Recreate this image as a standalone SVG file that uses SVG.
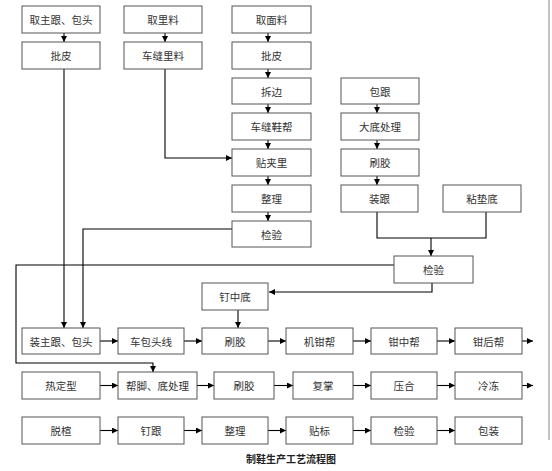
<svg xmlns="http://www.w3.org/2000/svg" width="552" height="471" viewBox="0 0 552 471">
<defs>
<marker id="ah" viewBox="0 0 6 6" refX="6" refY="3" markerWidth="6" markerHeight="6" markerUnits="userSpaceOnUse" orient="auto">
<path d="M0,0 L6,3 L0,6 z" fill="#000"/>
</marker>
<style>
.b rect{fill:#fff;stroke:#555;stroke-width:1}
.b text{font-family:"Noto Sans CJK SC","Noto Sans",sans-serif;font-size:10.5px;fill:#333;text-anchor:middle;dominant-baseline:central}
#conn path{fill:none;stroke:#000;stroke-width:1.1}
#conn .a{marker-end:url(#ah)}
.t{font-family:"Noto Sans CJK SC",sans-serif;font-size:10px;font-weight:bold;fill:#222;text-anchor:middle}
</style>
</defs>
<rect width="552" height="471" fill="#fff"/>
<line x1="549" y1="0" x2="549" y2="440" stroke="#888" stroke-width="1"/>

<g id="conn">
<path class="a" d="M64,33 V42"/>
<path class="a" d="M165,33 V42"/>
<path class="a" d="M268,33 V42"/>
<path class="a" d="M268,69 V78"/>
<path class="a" d="M268,104 V113"/>
<path class="a" d="M268,140 V149"/>
<path class="a" d="M268,176 V185"/>
<path class="a" d="M268,212 V221"/>
<path class="a" d="M377,104 V113"/>
<path class="a" d="M377,140 V149"/>
<path class="a" d="M377,176 V185"/>
<path class="a" d="M64,69 V328"/>
<path class="a" d="M165,69 V158 H232"/>
<path class="a" d="M232,229 H83 V328"/>
<path d="M377,212 V238 H486 V212"/>
<path class="a" d="M431,238 V256"/>
<path class="a" d="M394,265 H16 V363 H153 V372"/>
<path class="a" d="M432,283 V292 H269"/>
<path class="a" d="M238,310 V328"/>
<path class="a" d="M100,341 H118"/>
<path class="a" d="M184,341 H202"/>
<path class="a" d="M268,341 H286"/>
<path class="a" d="M353,341 H371"/>
<path class="a" d="M437,341 H455"/>
<path class="a" d="M522,341 H533"/>
<path class="a" d="M100,385.5 H118"/>
<path class="a" d="M197,385.5 H214"/>
<path class="a" d="M274,385.5 H293"/>
<path class="a" d="M353,385.5 H371"/>
<path class="a" d="M437,385.5 H455"/>
<path class="a" d="M522,385.5 H533"/>
<path class="a" d="M100,430.5 H118"/>
<path class="a" d="M184,430.5 H202"/>
<path class="a" d="M268,430.5 H286"/>
<path class="a" d="M353,430.5 H371"/>
<path class="a" d="M437,430.5 H455"/>
</g>

<g class="b">
<g id="n1"><rect x="22" y="6" width="78" height="27"/><text x="61" y="19.5">取主跟、包头</text></g>
<g id="n2"><rect x="22" y="42" width="78" height="27"/><text x="61" y="55.5">批皮</text></g>
<g id="n3"><rect x="124" y="6" width="78" height="27"/><text x="163" y="19.5">取里料</text></g>
<g id="n4"><rect x="124" y="42" width="78" height="27"/><text x="163" y="55.5">车缝里料</text></g>
<g id="n5"><rect x="232" y="6" width="79" height="27"/><text x="271.5" y="19.5">取面料</text></g>
<g id="n6"><rect x="232" y="42" width="79" height="27"/><text x="271.5" y="55.5">批皮</text></g>
<g id="n7"><rect x="232" y="78" width="79" height="26"/><text x="271.5" y="91">拆边</text></g>
<g id="n8"><rect x="232" y="113" width="79" height="27"/><text x="271.5" y="126.5">车缝鞋帮</text></g>
<g id="n9"><rect x="232" y="149" width="79" height="27"/><text x="271.5" y="162.5">贴夹里</text></g>
<g id="n10"><rect x="232" y="185" width="79" height="27"/><text x="271.5" y="198.5">整理</text></g>
<g id="n11"><rect x="232" y="221" width="79" height="26"/><text x="271.5" y="234">检验</text></g>
<g id="n12"><rect x="341" y="78" width="78" height="26"/><text x="380" y="91">包跟</text></g>
<g id="n13"><rect x="341" y="113" width="78" height="27"/><text x="380" y="126.5">大底处理</text></g>
<g id="n14"><rect x="341" y="149" width="78" height="27"/><text x="380" y="162.5">刷胶</text></g>
<g id="n15"><rect x="341" y="185" width="77" height="27"/><text x="379.5" y="198.5">装跟</text></g>
<g id="n16"><rect x="443" y="185" width="78" height="27"/><text x="482" y="198.5">粘垫底</text></g>
<g id="n17"><rect x="394" y="256" width="79" height="27"/><text x="433.5" y="269.5">检验</text></g>
<g id="n18"><rect x="202" y="283" width="66" height="27"/><text x="235" y="296.5">钉中底</text></g>
<g id="n19"><rect x="22" y="328" width="78" height="26"/><text x="61" y="341">装主跟、包头</text></g>
<g id="n20"><rect x="118" y="328" width="66" height="26"/><text x="151" y="341">车包头线</text></g>
<g id="n21"><rect x="202" y="328" width="66" height="26"/><text x="235" y="341">刷胶</text></g>
<g id="n22"><rect x="286" y="328" width="67" height="26"/><text x="319.5" y="341">机钳帮</text></g>
<g id="n23"><rect x="371" y="328" width="66" height="26"/><text x="404" y="341">钳中帮</text></g>
<g id="n24"><rect x="455" y="328" width="67" height="26"/><text x="488.5" y="341">钳后帮</text></g>
<g id="n25"><rect x="22" y="372" width="78" height="27"/><text x="61" y="385.5">热定型</text></g>
<g id="n26"><rect x="118" y="372" width="79" height="27"/><text x="157.5" y="385.5">帮脚、底处理</text></g>
<g id="n27"><rect x="214" y="372" width="60" height="27"/><text x="244" y="385.5">刷胶</text></g>
<g id="n28"><rect x="293" y="372" width="60" height="27"/><text x="323" y="385.5">复掌</text></g>
<g id="n29"><rect x="371" y="372" width="66" height="27"/><text x="404" y="385.5">压合</text></g>
<g id="n30"><rect x="455" y="372" width="67" height="27"/><text x="488.5" y="385.5">冷冻</text></g>
<g id="n31"><rect x="22" y="417" width="78" height="27"/><text x="61" y="430.5">脱楦</text></g>
<g id="n32"><rect x="118" y="417" width="66" height="27"/><text x="151" y="430.5">钉跟</text></g>
<g id="n33"><rect x="202" y="417" width="66" height="27"/><text x="235" y="430.5">整理</text></g>
<g id="n34"><rect x="286" y="417" width="67" height="27"/><text x="319.5" y="430.5">贴标</text></g>
<g id="n35"><rect x="371" y="417" width="66" height="27"/><text x="404" y="430.5">检验</text></g>
<g id="n36"><rect x="455" y="417" width="67" height="27"/><text x="488.5" y="430.5">包装</text></g>
</g>

<text class="t" x="291" y="463">制鞋生产工艺流程图</text>
</svg>
